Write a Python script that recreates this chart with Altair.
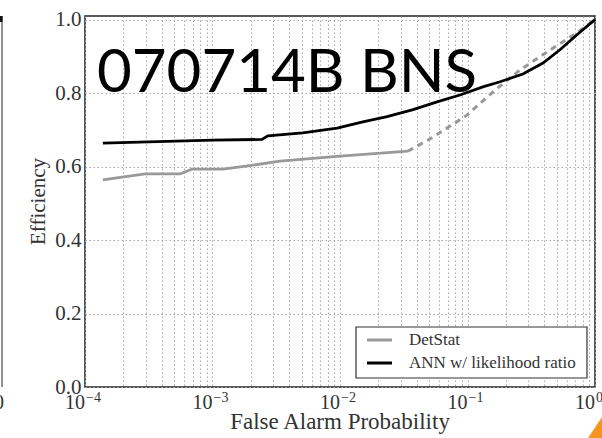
import altair as alt
import pandas as pd

# ROC-style efficiency curves for GRB 070714B (BNS search)
ann_fap = [1.38e-4, 1.0e-3, 2.44e-3, 2.72e-3, 5.1e-3, 9.5e-3, 1.51e-2, 2.34e-2,
           3.74e-2, 5.77e-2, 8.73e-2, 0.132, 0.18, 0.272, 0.391, 0.531, 0.722, 1.0]
ann_eff = [0.664, 0.672, 0.674, 0.684, 0.692, 0.705, 0.722, 0.736,
           0.755, 0.776, 0.795, 0.817, 0.831, 0.852, 0.882, 0.918, 0.959, 1.0]

det_fap = [1.38e-4, 2.96e-4, 5.56e-4, 6.9e-4, 1.21e-3, 2.08e-3, 3.38e-3, 9.46e-3, 3.41e-2]
det_eff = [0.564, 0.580, 0.580, 0.593, 0.593, 0.604, 0.615, 0.628, 0.642]

# DetStat extrapolation beyond its last measured point
det_ext_fap = [3.41e-2, 5.36e-2, 9.9e-2, 0.158, 0.258, 0.469, 0.722, 1.0]
det_ext_eff = [0.642, 0.680, 0.740, 0.803, 0.863, 0.923, 0.964, 1.0]

series_names = ["DetStat", "ANN w/ likelihood ratio"]
series_colors = ["#999999", "#000000"]

decades = [1e-4, 1e-3, 1e-2, 1e-1, 1.0]
exponents = ["\u22124", "\u22123", "\u22122", "\u22121", "0"]
minor_grid = [m * d for d in decades[:-1] for m in range(1, 10)] + [1.0]
y_ticks = [0.0, 0.2, 0.4, 0.6, 0.8, 1.0]

headline = "070714B BNS"
x_title = "False Alarm Probability"
y_title = "Efficiency"

W, H = 510, 371
SERIF = "Liberation Serif"
TXT = "#333333"

curves = pd.concat([
    pd.DataFrame({"fap": det_fap, "eff": det_eff, "curve": "det"}),
    pd.DataFrame({"fap": det_ext_fap, "eff": det_ext_eff, "curve": "det_ext"}),
    pd.DataFrame({"fap": ann_fap, "eff": ann_eff, "curve": "ann"}),
], ignore_index=True)

x_axis = alt.Axis(
    values=minor_grid, labels=False, ticks=False, domain=False, title=None,
    grid=True, gridColor="#a8a8a8", gridDash=[1.5, 2.5], gridWidth=1,
)
x_scale = alt.Scale(type="log", domain=[1e-4, 1.0], nice=False)
x_enc = alt.X("fap:Q", scale=x_scale, axis=x_axis)

y_enc = alt.Y(
    "eff:Q",
    scale=alt.Scale(domain=[0, 1.01], nice=False),
    axis=alt.Axis(
        values=y_ticks, format=".1f", ticks=False, domain=False,
        grid=True, gridColor="#a8a8a8", gridDash=[1.5, 2.5], gridWidth=1,
        labelFont=SERIF, labelFontSize=21, labelColor=TXT, labelPadding=4,
        title=y_title, titleFont=SERIF, titleFontSize=21,
        titleFontWeight="normal", titleColor=TXT, titleAngle=270,
        titleX=-41, titleY=185, titleBaseline="alphabetic", titleAlign="center",
    ),
)

base = alt.Chart(curves).encode(x=x_enc, y=y_enc)

det_line = base.transform_filter(alt.datum.curve == "det").mark_line(
    color=series_colors[0], strokeWidth=2.8)
det_ext_line = base.transform_filter(alt.datum.curve == "det_ext").mark_line(
    color=series_colors[0], strokeWidth=3, strokeDash=[6, 5])
ann_line = base.transform_filter(alt.datum.curve == "ann").mark_line(
    color=series_colors[1], strokeWidth=2.8)

# decade labels on the x axis: "10" plus a raised exponent
ticks_df = pd.DataFrame({"fap": decades, "exp": exponents, "base": ["10"] * 5})
tick_base = alt.Chart(ticks_df).mark_text(
    font=SERIF, fontSize=20, color=TXT, align="right", baseline="alphabetic"
).encode(x=x_enc, y=alt.value(H + 22), text="base:N")
tick_exp = alt.Chart(ticks_df).mark_text(
    font=SERIF, fontSize=14, color=TXT, align="left", baseline="alphabetic", dx=1
).encode(x=x_enc, y=alt.value(H + 15), text="exp:N")

# x-axis title
xt = alt.Chart(pd.DataFrame({"t": [x_title]})).mark_text(
    font=SERIF, fontSize=23, color=TXT, align="center", baseline="alphabetic"
).encode(x=alt.value(W / 2), y=alt.value(H + 42), text="t:N")

# headline over the plot
head_df = pd.DataFrame({"label": [headline]})
head = alt.Chart(head_df).mark_text(
    font="Lato", fontSize=60, color="#000000", align="left", baseline="alphabetic"
).encode(x=alt.value(12), y=alt.value(76), text="label:N")

# legend box
leg_df = pd.DataFrame({"name": series_names, "color": series_colors})
lx0, lx1, ly0, ly1 = 271, 502, 311, 362
leg_box = alt.Chart(head_df).mark_rect(
    fill="white", stroke="#333333", strokeWidth=1.2
).encode(x=alt.value(lx0), x2=alt.value(lx1), y=alt.value(ly0), y2=alt.value(ly1))

leg_layers = []
for i, name in enumerate(series_names):
    row_y = ly0 + 13 + 23 * i
    sel = alt.Chart(leg_df).transform_filter(alt.datum.name == name)
    leg_layers.append(sel.mark_rule(color=series_colors[i], strokeWidth=3).encode(
        x=alt.value(lx0 + 11), x2=alt.value(lx0 + 36), y=alt.value(row_y)))
    leg_layers.append(sel.mark_text(
        font=SERIF, fontSize=17, color=TXT, align="left", baseline="middle"
    ).encode(x=alt.value(lx0 + 53), y=alt.value(row_y), text="name:N"))

# edge of the neighbouring panel and the slide corner accent
edge = alt.Chart(head_df).mark_rule(color="#555555", strokeWidth=1.3).encode(
    x=alt.value(-83), y=alt.value(0), y2=alt.value(H))
edge_cap = alt.Chart(head_df).mark_rule(color="#111111", strokeWidth=3).encode(
    x=alt.value(-84), y=alt.value(0), y2=alt.value(6))
edge_label = alt.Chart(pd.DataFrame({"t": ["0"]})).mark_text(
    font=SERIF, fontSize=20, color=TXT, align="right", baseline="alphabetic"
).encode(x=alt.value(-81), y=alt.value(H + 22), text="t:N")
corner = alt.Chart(head_df).mark_point(
    shape="M -0.65 0.975 L 0.65 -0.975 L 0.65 0.975 Z", filled=True,
    fill="#F7941D", opacity=1, size=1600, strokeWidth=0
).encode(x=alt.value(512), y=alt.value(408.5))

chart = alt.layer(
    det_line, det_ext_line, ann_line, tick_base, tick_exp, xt, head,
    leg_box, *leg_layers, edge, edge_cap, edge_label, corner,
).properties(
    width=W, height=H,
    autosize=alt.AutoSizeParams(type="none"),
    padding={"left": 85, "top": 16, "right": 7, "bottom": 51},
    background="white",
).configure_view(
    stroke="#222222", strokeWidth=1.5
)

chart.save("out.html", embed_options={"renderer": "svg", "actions": False})
